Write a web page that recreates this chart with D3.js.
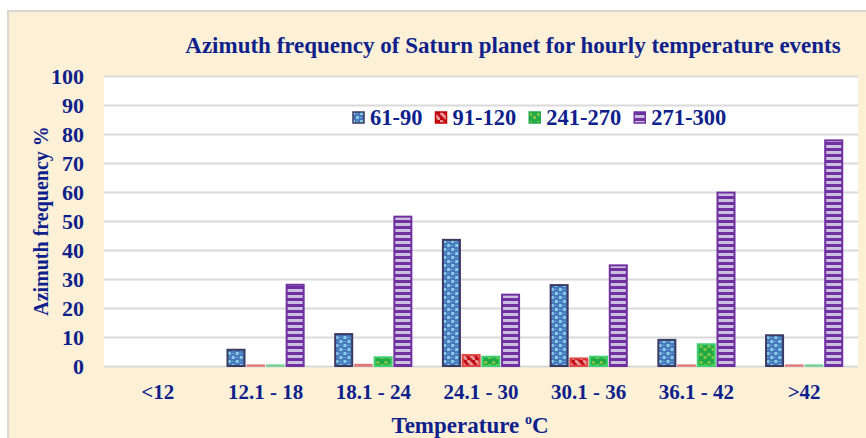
<!DOCTYPE html>
<html>
<head>
<meta charset="utf-8">
<script src="https://cdn.jsdelivr.net/npm/d3@7"></script>
<style>
  body { margin: 0; background: #fff; }
  text { font-family: "Times New Roman", "Liberation Serif", serif; font-weight: bold; fill: #0f1f8c; }
</style>
</head>
<body>
<svg id="chart"></svg>
<script>
// data
var categories = ["<12", "12.1 - 18", "18.1 - 24", "24.1 - 30", "30.1 - 36", "36.1 - 42", ">42"];
var seriesNames = ["61-90", "91-120", "241-270", "271-300"];
var s61_90   = [0, 5.6, 11.0, 43.5, 27.9, 9.0, 10.6];
var s91_120  = [0, 0.3, 0.5, 3.8, 2.6, 0.3, 0.3];
var s241_270 = [0, 0.3, 3.0, 3.2, 3.2, 7.5, 0.3];
var s271_300 = [0, 28.0, 51.5, 24.6, 34.7, 59.8, 77.8];
var yTicks = [0, 10, 20, 30, 40, 50, 60, 70, 80, 90, 100];

var seriesValues = [s61_90, s91_120, s241_270, s271_300];
var fills = ["url(#pBlue)", "url(#pRed)", "url(#pGreen)", "url(#pPurple)"];
var strokes = ["#3b3a62", "#e04848", "#3fcf6f", "#7030a0"];
var thinStrokes = ["#3b3a62", "#e07878", "#6fd08f", "#7030a0"];
var legendStrokes = ["#3b3a62", "#c00000", "#1faa48", "#7030a0"];

var W = 866, H = 438;
var pLeft = 104, pRight = 858, pTop = 76, pBottom = 366;

var svg = d3.select("#chart").attr("width", W).attr("height", H);

// patterns
var defs = svg.append("defs");
var pb = defs.append("pattern").attr("id", "pBlue").attr("patternUnits", "userSpaceOnUse").attr("width", 8).attr("height", 8);
pb.append("rect").attr("width", 8).attr("height", 8).attr("fill", "#4677bc");
pb.append("rect").attr("x", 0).attr("y", 0).attr("width", 3).attr("height", 3).attr("fill", "#86cde6");
pb.append("rect").attr("x", 4).attr("y", 4).attr("width", 3).attr("height", 3).attr("fill", "#86cde6");
pb.append("rect").attr("x", 4).attr("y", 1).attr("width", 2).attr("height", 1).attr("fill", "#6fa9da");
pb.append("rect").attr("x", 0).attr("y", 5).attr("width", 2).attr("height", 1).attr("fill", "#6fa9da");

var pr = defs.append("pattern").attr("id", "pRed").attr("patternUnits", "userSpaceOnUse").attr("width", 8).attr("height", 8);
pr.append("rect").attr("width", 8).attr("height", 8).attr("fill", "#c40c14");
pr.append("path").attr("d", "M0,0 L8,8").attr("stroke", "#ea9a9a").attr("stroke-width", 3);

var pg = defs.append("pattern").attr("id", "pGreen").attr("patternUnits", "userSpaceOnUse").attr("width", 8).attr("height", 8);
pg.append("rect").attr("width", 8).attr("height", 8).attr("fill", "#1faa48");
pg.append("rect").attr("x", 1).attr("y", 1).attr("width", 3).attr("height", 3).attr("fill", "#86c440");
pg.append("rect").attr("x", 5).attr("y", 4).attr("width", 3).attr("height", 3).attr("fill", "#86c440");

var pp = defs.append("pattern").attr("id", "pPurple").attr("patternUnits", "userSpaceOnUse").attr("width", 6).attr("height", 6);
pp.append("rect").attr("width", 6).attr("height", 6).attr("fill", "#7030a0");
pp.append("rect").attr("y", 1).attr("width", 6).attr("height", 3).attr("fill", "#cbbfe2");

// frame background
svg.append("rect").attr("x", 8).attr("y", 11).attr("width", W).attr("height", H)
  .attr("fill", "#fcf0d6").attr("stroke", "#d9d6d0").attr("stroke-width", 2);

// plot area
svg.append("rect").attr("x", pLeft).attr("y", pTop).attr("width", pRight - pLeft).attr("height", pBottom - pTop).attr("fill", "#fff");

var x0 = d3.scaleBand().domain(categories).range([pLeft, pRight]).paddingInner(0).paddingOuter(0);
var x1 = d3.scaleBand().domain(seriesNames).range([0, x0.bandwidth()]).paddingInner(0.137).paddingOuter(0.8);
var y = d3.scaleLinear().domain([0, 100]).range([pBottom, pTop]);

// grid + y axis
var yAxis = svg.append("g").attr("transform", "translate(" + pLeft + ",0)")
  .call(d3.axisLeft(y).tickValues(yTicks).tickSize(-(pRight - pLeft)).tickPadding(20));
yAxis.select(".domain").remove();
yAxis.selectAll("line").attr("stroke", "#d9d9d9").attr("stroke-width", 2);
yAxis.selectAll("text").style("font-size", "22px").style("font-family", "'Times New Roman','Liberation Serif',serif")
  .style("font-weight", "bold").attr("fill", "#0f1f8c").attr("dy", "0.35em");

// bars
var groups = svg.append("g").selectAll("g").data(categories).enter().append("g")
  .attr("transform", function(d) { return "translate(" + x0(d) + ",0)"; });
groups.selectAll("rect").data(function(c, ci) {
    return seriesNames.map(function(s, si) { return { s: s, si: si, v: seriesValues[si][ci] }; });
  }).enter().append("rect")
  .filter(function(d) { return d.v > 0; })
  .attr("x", function(d) { return x1(d.s); })
  .attr("y", function(d) { return y(d.v); })
  .attr("width", x1.bandwidth())
  .attr("height", function(d) { return y(0) - y(d.v); })
  .attr("fill", function(d) { return fills[d.si]; })
  .attr("stroke", function(d) { return d.v < 1 ? thinStrokes[d.si] : strokes[d.si]; })
  .attr("stroke-width", function(d) { return d.v < 1 ? 1.5 : 2; });

// x labels
svg.append("g").selectAll("text").data(categories).enter().append("text")
  .attr("x", function(d) { return x0(d) + x0.bandwidth() / 2; })
  .attr("y", 399)
  .attr("text-anchor", "middle")
  .style("font-size", "21px")
  .text(function(d) { return d; });

// legend
var legend = svg.append("g").attr("transform", "translate(352,0)");
var lx = 0;
seriesNames.forEach(function(s, i) {
  legend.append("rect").attr("x", lx + 1).attr("y", 112).attr("width", 11).attr("height", 11)
    .attr("fill", fills[i]).attr("stroke", legendStrokes[i]).attr("stroke-width", 1.5);
  var t = legend.append("text").attr("x", lx + 18).attr("y", 125).style("font-size", "22.5px").text(s);
  lx += 18 + t.node().getComputedTextLength() + 12;
});

// title
svg.append("text").attr("x", 513).attr("y", 53).attr("text-anchor", "middle")
  .style("font-size", "23px").text("Azimuth frequency of Saturn planet for hourly temperature events");

// axis titles
svg.append("text").attr("transform", "translate(48,221) rotate(-90)").attr("text-anchor", "middle")
  .style("font-size", "20px").text("Azimuth frequency %");
var xt = svg.append("text").attr("x", 470).attr("y", 433).attr("text-anchor", "middle").style("font-size", "23px");
xt.append("tspan").text("Temperature ");
xt.append("tspan").attr("dy", -9).style("font-size", "14px").text("o");
xt.append("tspan").attr("dy", 9).text("C");
</script>
</body>
</html>
